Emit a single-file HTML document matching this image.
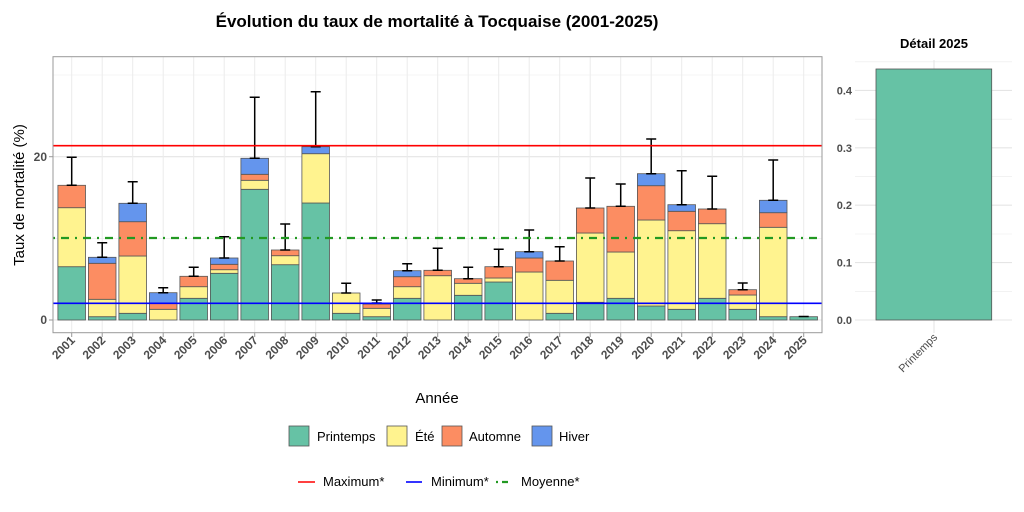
<!DOCTYPE html>
<html><head><meta charset="utf-8"><style>
body{margin:0;background:#fff;}
svg{display:block;font-family:"Liberation Sans",sans-serif;}
.g{fill:#66c2a5}.y{fill:#fff38f}.o{fill:#fc8d62}.b{fill:#6495ed}
</style></head><body>
<svg width="1024" height="512" viewBox="0 0 1024 512" xmlns="http://www.w3.org/2000/svg">
<rect width="1024" height="512" fill="#fff"/>
<text x="437" y="27" text-anchor="middle" font-size="17" font-weight="bold" fill="#000">Évolution du taux de mortalité à Tocquaise (2001-2025)</text>
<g stroke="#ebebeb" stroke-width="0.6">
<line x1="53" x2="822" y1="238.3" y2="238.3"/><line x1="53" x2="822" y1="75" y2="75"/>
</g>
<g stroke="#e5e5e5" stroke-width="1.1">
<line x1="53" x2="822" y1="320" y2="320"/><line x1="53" x2="822" y1="156.7" y2="156.7"/>
</g>
<path stroke="#ebebeb" stroke-width="1" d="M71.7 57V333M102.2 57V333M132.7 57V333M163.2 57V333M193.7 57V333M224.2 57V333M254.7 57V333M285.2 57V333M315.7 57V333M346.2 57V333M376.7 57V333M407.2 57V333M437.7 57V333M468.2 57V333M498.7 57V333M529.2 57V333M559.7 57V333M590.2 57V333M620.7 57V333M651.2 57V333M681.7 57V333M712.2 57V333M742.7 57V333M773.2 57V333M803.7 57V333"/>
<g stroke="#555" stroke-width="0.8">
<rect class="g" x="57.9" y="266.7" width="27.6" height="53.3"/><rect class="y" x="57.9" y="207.7" width="27.6" height="59"/><rect class="o" x="57.9" y="185.3" width="27.6" height="22.4"/>
<rect class="g" x="88.4" y="316.7" width="27.6" height="3.3"/><rect class="y" x="88.4" y="299.3" width="27.6" height="17.4"/><rect class="o" x="88.4" y="263.3" width="27.6" height="36"/><rect class="b" x="88.4" y="257.3" width="27.6" height="6"/>
<rect class="g" x="118.9" y="313.3" width="27.6" height="6.7"/><rect class="y" x="118.9" y="256" width="27.6" height="57.3"/><rect class="o" x="118.9" y="221.7" width="27.6" height="34.3"/><rect class="b" x="118.9" y="203.3" width="27.6" height="18.4"/>
<rect class="y" x="149.4" y="309.3" width="27.6" height="10.7"/><rect class="o" x="149.4" y="303" width="27.6" height="6.3"/><rect class="b" x="149.4" y="292.7" width="27.6" height="10.3"/>
<rect class="g" x="179.9" y="298.3" width="27.6" height="21.7"/><rect class="y" x="179.9" y="286.7" width="27.6" height="11.6"/><rect class="o" x="179.9" y="276.3" width="27.6" height="10.4"/>
<rect class="g" x="210.4" y="273.3" width="27.6" height="46.7"/><rect class="y" x="210.4" y="269.7" width="27.6" height="3.6"/><rect class="o" x="210.4" y="264.3" width="27.6" height="5.4"/><rect class="b" x="210.4" y="258" width="27.6" height="6.3"/>
<rect class="g" x="240.9" y="189.3" width="27.6" height="130.7"/><rect class="y" x="240.9" y="180.3" width="27.6" height="9"/><rect class="o" x="240.9" y="174.3" width="27.6" height="6"/><rect class="b" x="240.9" y="158.3" width="27.6" height="16"/>
<rect class="g" x="271.4" y="264.7" width="27.6" height="55.3"/><rect class="y" x="271.4" y="255.7" width="27.6" height="9"/><rect class="o" x="271.4" y="250" width="27.6" height="5.7"/>
<rect class="g" x="301.9" y="203" width="27.6" height="117"/><rect class="y" x="301.9" y="153.7" width="27.6" height="49.3"/><rect class="b" x="301.9" y="146.7" width="27.6" height="7"/>
<rect class="g" x="332.4" y="313.3" width="27.6" height="6.7"/><rect class="y" x="332.4" y="293" width="27.6" height="20.3"/>
<rect class="g" x="362.9" y="316.7" width="27.6" height="3.3"/><rect class="y" x="362.9" y="308.3" width="27.6" height="8.4"/><rect class="o" x="362.9" y="304" width="27.6" height="4.3"/><rect class="b" x="362.9" y="303" width="27.6" height="1"/>
<rect class="g" x="393.4" y="298.3" width="27.6" height="21.7"/><rect class="y" x="393.4" y="286.7" width="27.6" height="11.6"/><rect class="o" x="393.4" y="276.7" width="27.6" height="10"/><rect class="b" x="393.4" y="270.7" width="27.6" height="6"/>
<rect class="y" x="423.9" y="275.7" width="27.6" height="44.3"/><rect class="o" x="423.9" y="270.3" width="27.6" height="5.4"/>
<rect class="g" x="454.4" y="295.3" width="27.6" height="24.7"/><rect class="y" x="454.4" y="283.3" width="27.6" height="12"/><rect class="o" x="454.4" y="278.7" width="27.6" height="4.6"/>
<rect class="g" x="484.9" y="282" width="27.6" height="38"/><rect class="y" x="484.9" y="278" width="27.6" height="4"/><rect class="o" x="484.9" y="266.7" width="27.6" height="11.3"/>
<rect class="y" x="515.4" y="272" width="27.6" height="48"/><rect class="o" x="515.4" y="258" width="27.6" height="14"/><rect class="b" x="515.4" y="251.7" width="27.6" height="6.3"/>
<rect class="g" x="545.9" y="313.3" width="27.6" height="6.7"/><rect class="y" x="545.9" y="280.3" width="27.6" height="33"/><rect class="o" x="545.9" y="261" width="27.6" height="19.3"/>
<rect class="g" x="576.4" y="302.3" width="27.6" height="17.7"/><rect class="y" x="576.4" y="233" width="27.6" height="69.3"/><rect class="o" x="576.4" y="208" width="27.6" height="25"/>
<rect class="g" x="606.9" y="298.3" width="27.6" height="21.7"/><rect class="y" x="606.9" y="252" width="27.6" height="46.3"/><rect class="o" x="606.9" y="206.3" width="27.6" height="45.7"/>
<rect class="g" x="637.4" y="306" width="27.6" height="14"/><rect class="y" x="637.4" y="220" width="27.6" height="86"/><rect class="o" x="637.4" y="185.7" width="27.6" height="34.3"/><rect class="b" x="637.4" y="173.7" width="27.6" height="12"/>
<rect class="g" x="667.9" y="309.3" width="27.6" height="10.7"/><rect class="y" x="667.9" y="230.7" width="27.6" height="78.6"/><rect class="o" x="667.9" y="211.3" width="27.6" height="19.4"/><rect class="b" x="667.9" y="204.7" width="27.6" height="6.6"/>
<rect class="g" x="698.4" y="298.3" width="27.6" height="21.7"/><rect class="y" x="698.4" y="223.7" width="27.6" height="74.6"/><rect class="o" x="698.4" y="209" width="27.6" height="14.7"/>
<rect class="g" x="728.9" y="309.3" width="27.6" height="10.7"/><rect class="y" x="728.9" y="295" width="27.6" height="14.3"/><rect class="o" x="728.9" y="289.7" width="27.6" height="5.3"/>
<rect class="g" x="759.4" y="316.7" width="27.6" height="3.3"/><rect class="y" x="759.4" y="227.3" width="27.6" height="89.4"/><rect class="o" x="759.4" y="212.7" width="27.6" height="14.6"/><rect class="b" x="759.4" y="200.3" width="27.6" height="12.4"/>
<rect class="g" x="789.9" y="316.7" width="27.6" height="3.3"/>
</g>
<path stroke="#000" stroke-width="1.5" fill="none" d="
M71.7 185.3V157.3M66.7 157.3H76.7M66.7 185.3H76.7
M102.2 257.3V242.7M97.2 242.7H107.2M97.2 257.3H107.2
M132.7 203.3V181.7M127.7 181.7H137.7M127.7 203.3H137.7
M163.2 292.7V287.7M158.2 287.7H168.2M158.2 292.7H168.2
M193.7 276.3V267.3M188.7 267.3H198.7M188.7 276.3H198.7
M224.2 258V236.7M219.2 236.7H229.2M219.2 258H229.2
M254.7 158.3V97.3M249.7 97.3H259.7M249.7 158.3H259.7
M285.2 250V224M280.2 224H290.2M280.2 250H290.2
M315.7 146.7V91.7M310.7 91.7H320.7M310.7 146.7H320.7
M346.2 293V283.3M341.2 283.3H351.2M341.2 293H351.2
M376.7 303V300M371.7 300H381.7M371.7 303H381.7
M407.2 270.7V263.7M402.2 263.7H412.2M402.2 270.7H412.2
M437.7 270.3V248.3M432.7 248.3H442.7M432.7 270.3H442.7
M468.2 278.7V267.3M463.2 267.3H473.2M463.2 278.7H473.2
M498.7 266.7V249.3M493.7 249.3H503.7M493.7 266.7H503.7
M529.2 251.7V230M524.2 230H534.2M524.2 251.7H534.2
M559.7 261V246.7M554.7 246.7H564.7M554.7 261H564.7
M590.2 208V178M585.2 178H595.2M585.2 208H595.2
M620.7 206.3V184M615.7 184H625.7M615.7 206.3H625.7
M651.2 173.7V139M646.2 139H656.2M646.2 173.7H656.2
M681.7 204.7V170.7M676.7 170.7H686.7M676.7 204.7H686.7
M712.2 209V176.3M707.2 176.3H717.2M707.2 209H717.2
M742.7 289.7V283M737.7 283H747.7M737.7 289.7H747.7
M773.2 200.3V160M768.2 160H778.2M768.2 200.3H778.2
M798.7 316.5H808.7"/>
<line x1="53" x2="822" y1="145.7" y2="145.7" stroke="#ff0000" stroke-width="1.6"/>
<line x1="53" x2="822" y1="303.3" y2="303.3" stroke="#0000ff" stroke-width="1.6"/>
<line x1="53" x2="822" y1="238" y2="238" stroke="#229922" stroke-width="2.2" stroke-dasharray="2 6 8 6"/>
<rect x="53" y="56.7" width="769" height="276" fill="none" stroke="#999" stroke-width="1"/>
<g font-size="12" font-weight="bold" fill="#4d4d4d" text-anchor="end">
<text x="47" y="324">0</text><text x="47" y="161">20</text>
</g>
<line x1="49" x2="53" y1="320" y2="320" stroke="#999"/><line x1="49" x2="53" y1="156.7" y2="156.7" stroke="#999"/>
<path stroke="#999" d="M71.7 333V337M102.2 333V337M132.7 333V337M163.2 333V337M193.7 333V337M224.2 333V337M254.7 333V337M285.2 333V337M315.7 333V337M346.2 333V337M376.7 333V337M407.2 333V337M437.7 333V337M468.2 333V337M498.7 333V337M529.2 333V337M559.7 333V337M590.2 333V337M620.7 333V337M651.2 333V337M681.7 333V337M712.2 333V337M742.7 333V337M773.2 333V337M803.7 333V337"/>
<text transform="translate(24,195) rotate(-90)" text-anchor="middle" font-size="15" fill="#000">Taux de mortalité (%)</text>
<g font-size="12" font-weight="bold" fill="#4d4d4d" text-anchor="end">
<text transform="translate(75.7,341) rotate(-45)">2001</text>
<text transform="translate(106.2,341) rotate(-45)">2002</text>
<text transform="translate(136.7,341) rotate(-45)">2003</text>
<text transform="translate(167.2,341) rotate(-45)">2004</text>
<text transform="translate(197.7,341) rotate(-45)">2005</text>
<text transform="translate(228.2,341) rotate(-45)">2006</text>
<text transform="translate(258.7,341) rotate(-45)">2007</text>
<text transform="translate(289.2,341) rotate(-45)">2008</text>
<text transform="translate(319.7,341) rotate(-45)">2009</text>
<text transform="translate(350.2,341) rotate(-45)">2010</text>
<text transform="translate(380.7,341) rotate(-45)">2011</text>
<text transform="translate(411.2,341) rotate(-45)">2012</text>
<text transform="translate(441.7,341) rotate(-45)">2013</text>
<text transform="translate(472.2,341) rotate(-45)">2014</text>
<text transform="translate(502.7,341) rotate(-45)">2015</text>
<text transform="translate(533.2,341) rotate(-45)">2016</text>
<text transform="translate(563.7,341) rotate(-45)">2017</text>
<text transform="translate(594.2,341) rotate(-45)">2018</text>
<text transform="translate(624.7,341) rotate(-45)">2019</text>
<text transform="translate(655.2,341) rotate(-45)">2020</text>
<text transform="translate(685.7,341) rotate(-45)">2021</text>
<text transform="translate(716.2,341) rotate(-45)">2022</text>
<text transform="translate(746.7,341) rotate(-45)">2023</text>
<text transform="translate(777.2,341) rotate(-45)">2024</text>
<text transform="translate(807.7,341) rotate(-45)">2025</text>
</g>
<text x="437" y="403" text-anchor="middle" font-size="15" fill="#000">Année</text>
<text x="934" y="48" text-anchor="middle" font-size="13" font-weight="bold" fill="#000">Détail 2025</text>
<g stroke="#ebebeb" stroke-width="0.6">
<line x1="855" x2="1012" y1="291.3" y2="291.3"/><line x1="855" x2="1012" y1="234" y2="234"/><line x1="855" x2="1012" y1="176.6" y2="176.6"/><line x1="855" x2="1012" y1="119.2" y2="119.2"/><line x1="855" x2="1012" y1="61.8" y2="61.8"/>
</g>
<g stroke="#e5e5e5" stroke-width="1.1">
<line x1="855" x2="1012" y1="320" y2="320"/><line x1="855" x2="1012" y1="262.6" y2="262.6"/><line x1="855" x2="1012" y1="205.2" y2="205.2"/><line x1="855" x2="1012" y1="147.8" y2="147.8"/><line x1="855" x2="1012" y1="90.4" y2="90.4"/>
<line x1="934" x2="934" y1="60" y2="333"/>
</g>
<rect x="876" y="69" width="115.7" height="251" fill="#66c2a5" stroke="#555" stroke-width="0.8"/>
<g font-size="11" font-weight="bold" fill="#4d4d4d" text-anchor="end">
<text x="852" y="324">0.0</text><text x="852" y="266.6">0.1</text><text x="852" y="209.2">0.2</text><text x="852" y="151.8">0.3</text><text x="852" y="94.4">0.4</text>
</g>
<text transform="translate(938,338) rotate(-45)" text-anchor="end" font-size="11" fill="#4d4d4d">Printemps</text>
<g stroke="#555" stroke-width="0.8">
<rect x="289" y="426" width="20" height="20" fill="#66c2a5"/>
<rect x="387" y="426" width="20" height="20" fill="#fff38f"/>
<rect x="442" y="426" width="20" height="20" fill="#fc8d62"/>
<rect x="532" y="426" width="20" height="20" fill="#6495ed"/>
</g>
<g font-size="13" fill="#000">
<text x="317" y="441">Printemps</text><text x="415" y="441">Été</text><text x="469" y="441">Automne</text><text x="559" y="441">Hiver</text>
<text x="323" y="486">Maximum*</text><text x="431" y="486">Minimum*</text><text x="521" y="486">Moyenne*</text>
</g>
<line x1="298" x2="315" y1="482" y2="482" stroke="#ff0000" stroke-width="1.6"/>
<line x1="406" x2="422" y1="482" y2="482" stroke="#0000ff" stroke-width="1.6"/>
<line x1="496" x2="509" y1="482" y2="482" stroke="#229922" stroke-width="2.2" stroke-dasharray="2 4 6 4"/>
</svg>
</body></html>
